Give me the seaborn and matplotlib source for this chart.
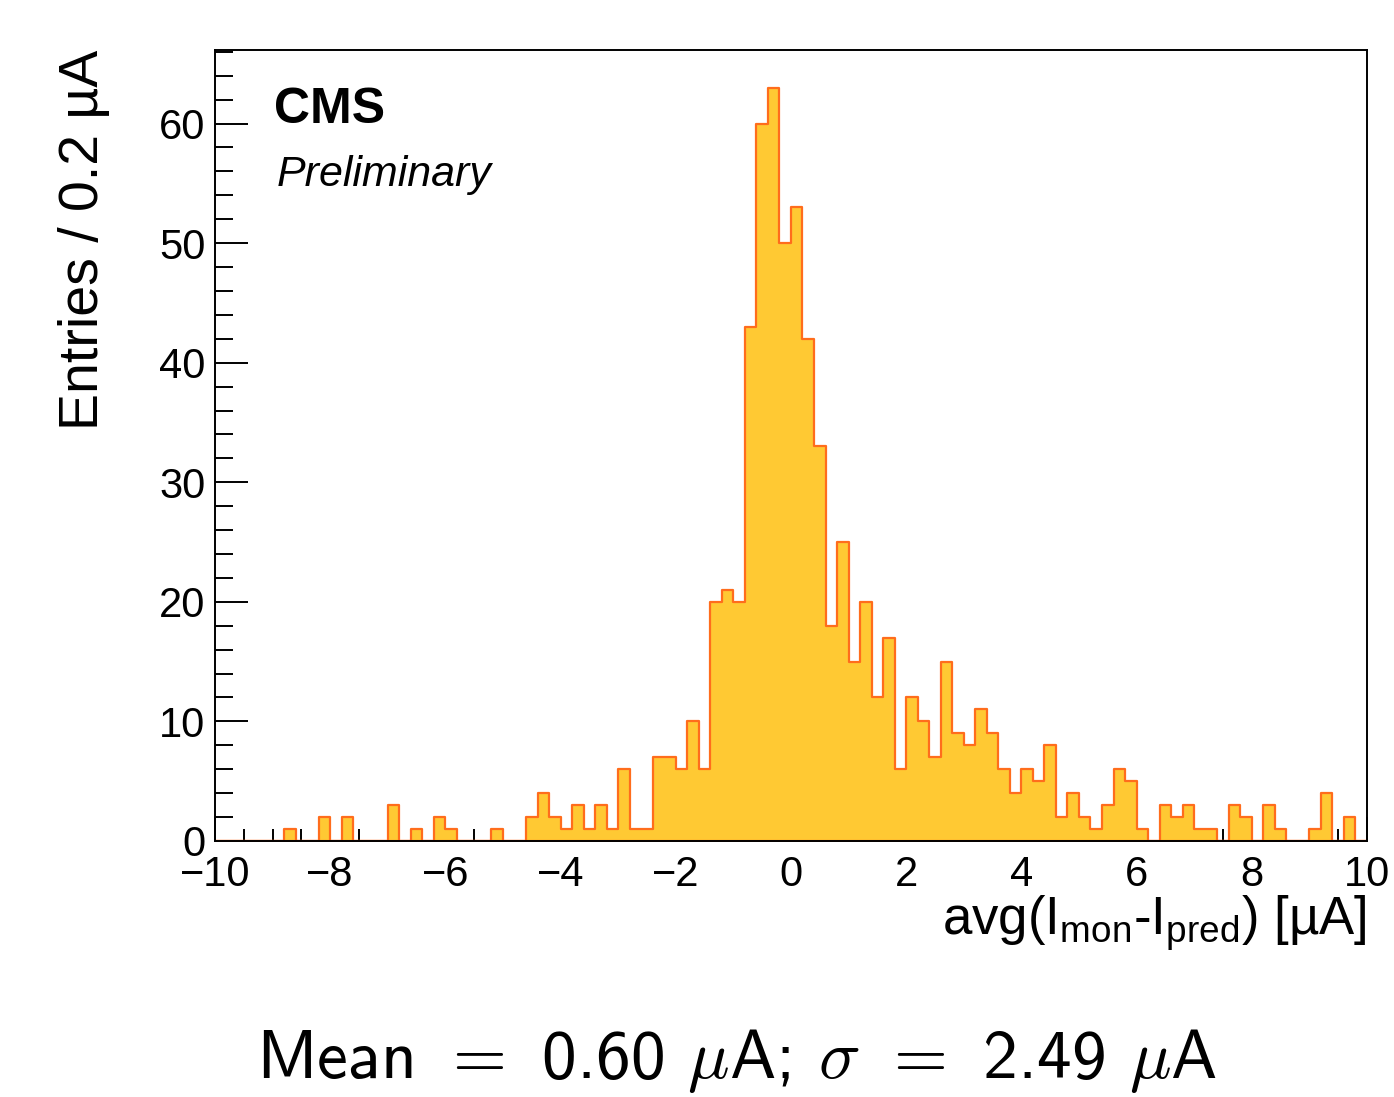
import numpy as np
import pandas as pd
import matplotlib
matplotlib.use("Agg")
import matplotlib.pyplot as plt
import seaborn as sns
from matplotlib.ticker import MultipleLocator

# histogram content, 100 bins of 0.2 uA from -10 to 10
x_lo, x_hi, bin_w = -10.0, 10.0, 0.2
counts = [0, 0, 0, 0, 0, 0, 1, 0, 0, 2,
          0, 2, 0, 0, 0, 3, 0, 1, 0, 2,
          1, 0, 0, 0, 1, 0, 0, 2, 4, 2,
          1, 3, 1, 3, 1, 6, 1, 1, 7, 7,
          6, 10, 6, 20, 21, 20, 43, 60, 63, 50,
          53, 42, 33, 18, 25, 15, 20, 12, 17, 6,
          12, 10, 7, 15, 9, 8, 11, 9, 6, 4,
          6, 5, 8, 2, 4, 2, 1, 3, 6, 5,
          1, 0, 3, 2, 3, 1, 1, 0, 3, 2,
          0, 3, 1, 0, 0, 1, 4, 0, 2, 0]
summary = r"Mean $=$ 0.60 $\mu$A; $\sigma$ $=$ 2.49 $\mu$A"

edges = np.linspace(x_lo, x_hi, len(counts) + 1)
df = pd.DataFrame({"x": 0.5 * (edges[:-1] + edges[1:]), "n": counts})

sns.set_style("white")
plt.rcParams["font.family"] = ["Liberation Sans", "DejaVu Sans"]
for k in ["text.color", "axes.labelcolor", "xtick.color", "ytick.color"]:
    plt.rcParams[k] = "black"

fig = plt.figure(figsize=(13.94, 10.97), dpi=100)
ax = fig.add_axes([0.1542, 0.2334, 0.8264, 0.7210])

sns.histplot(data=df, x="x", weights="n", binwidth=bin_w, binrange=(x_lo, x_hi),
             element="step", fill=True, color="#ffc933", edgecolor="#ff6d1c",
             linewidth=1.6, alpha=1.0, ax=ax)

ax.set_xlim(x_lo, x_hi)
ax.set_ylim(0, 1.05 * max(counts))
ax.set_xlabel("")
ax.set_ylabel("")

for s in ax.spines.values():
    s.set_visible(True)
    s.set_color("black")
    s.set_linewidth(1.4)

ax.xaxis.set_major_locator(MultipleLocator(2))
ax.xaxis.set_minor_locator(MultipleLocator(0.5))
ax.yaxis.set_major_locator(MultipleLocator(10))
ax.yaxis.set_minor_locator(MultipleLocator(2))
ax.tick_params(axis="both", which="both", direction="in", top=False, right=False,
               bottom=True, left=True, width=1.4, color="black")
ax.tick_params(axis="x", which="major", length=17, pad=10, labelsize=30)
ax.tick_params(axis="x", which="minor", length=8.6)
ax.tick_params(axis="y", which="major", length=24, pad=7, labelsize=30)
ax.tick_params(axis="y", which="minor", length=13)

ax.text(1.0, -0.1188, r"avg(I$_\mathregular{mon}$-I$_\mathregular{pred}$) [µA]",
        transform=ax.transAxes, ha="right", va="baseline", fontsize=38,
        rotation_mode="anchor")
ax.text(-0.1016, 1.0, "Entries / 0.2 µA", transform=ax.transAxes, rotation=90,
        rotation_mode="anchor", ha="right", va="baseline", fontsize=40)

ax.text(0.0512, 0.9077, "CMS", transform=ax.transAxes, fontsize=36,
        fontweight="bold", ha="left", va="baseline")
ax.text(0.0538, 0.828, "Preliminary", transform=ax.transAxes, fontsize=31,
        fontstyle="italic", ha="left", va="baseline")

fig.text(0.5287, 0.0173, summary, ha="center", va="baseline", fontsize=50,
         family="cmss10", math_fontfamily="cm")

fig.savefig("out.png", dpi=100)
